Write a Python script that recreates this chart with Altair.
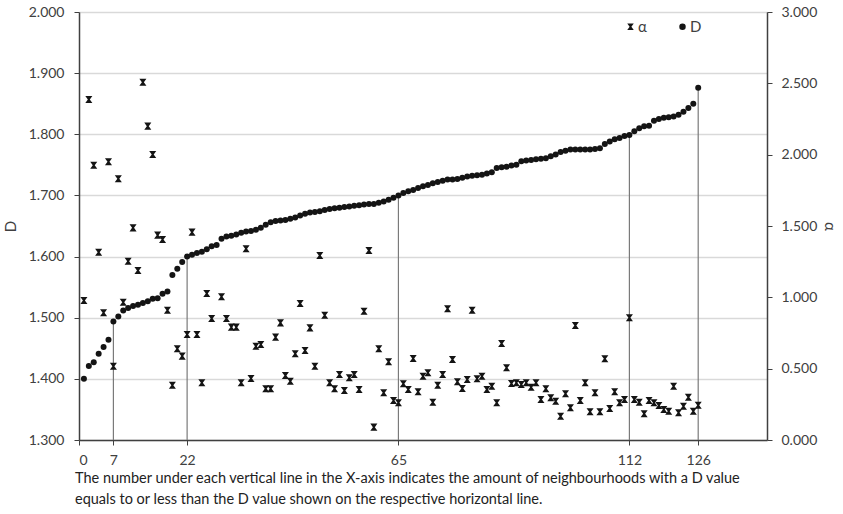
import altair as alt
import pandas as pd

# neighbourhood rank (x) and fractal dimension D, sorted ascending
rank = list(range(1, 127))
D_values = [
    1.400, 1.421, 1.427, 1.441, 1.452, 1.464, 1.494, 1.502, 1.512, 1.516,
    1.519, 1.521, 1.524, 1.527, 1.531, 1.532, 1.539, 1.543, 1.570, 1.580,
    1.591, 1.600, 1.603, 1.606, 1.608, 1.612, 1.617, 1.619, 1.629, 1.633,
    1.634, 1.636, 1.639, 1.641, 1.642, 1.644, 1.647, 1.652, 1.656, 1.658,
    1.659, 1.660, 1.662, 1.664, 1.667, 1.670, 1.672, 1.673, 1.674, 1.676,
    1.678, 1.679, 1.680, 1.681, 1.682, 1.683, 1.684, 1.685, 1.686, 1.686,
    1.688, 1.690, 1.693, 1.696, 1.700, 1.704, 1.707, 1.709, 1.712, 1.715,
    1.717, 1.720, 1.722, 1.724, 1.726, 1.726, 1.727, 1.729, 1.731, 1.732,
    1.733, 1.734, 1.736, 1.738, 1.745, 1.746, 1.747, 1.749, 1.750, 1.756,
    1.757, 1.758, 1.759, 1.760, 1.761, 1.764, 1.767, 1.771, 1.773, 1.775,
    1.775, 1.775, 1.775, 1.775, 1.776, 1.777, 1.784, 1.788, 1.792, 1.794,
    1.797, 1.799, 1.805, 1.810, 1.813, 1.814, 1.822, 1.825, 1.827, 1.828,
    1.829, 1.832, 1.837, 1.843, 1.850, 1.876,
]
alpha_values = [
    0.978, 2.387, 1.926, 1.316, 0.892, 1.950, 0.517, 1.831, 0.966, 1.253,
    1.487, 1.188, 2.508, 2.200, 2.001, 1.436, 1.405, 0.910, 0.384, 0.639,
    0.588, 0.739, 1.457, 0.739, 0.401, 1.027, 0.852, None, 1.004, 0.852,
    0.791, 0.791, 0.401, 1.340, 0.431, 0.657, 0.669, 0.359, 0.359, 0.721,
    0.821, 0.452, 0.412, 0.604, 0.957, 0.627, 0.786, 0.517, 1.293, 0.875,
    0.401, 0.359, 0.459, 0.347, 0.436, 0.459, 0.354, 0.903, 1.328, 0.090,
    0.639, 0.331, 0.548, 0.277, 0.261, 0.394, 0.354, 0.571, 0.338, 0.447,
    0.471, 0.265, 0.384, 0.459, 0.920, 0.564, 0.408, 0.361, 0.424, 0.910,
    0.429, 0.447, 0.354, 0.377, 0.261, 0.676, 0.506, 0.396, 0.401, 0.389,
    0.401, 0.370, 0.401, 0.284, 0.359, 0.296, 0.272, 0.167, 0.324, 0.226,
    0.803, 0.277, 0.401, 0.198, 0.331, 0.198, 0.569, 0.221, 0.338, 0.261,
    0.284, 0.857, 0.284, 0.265, 0.184, 0.277, 0.261, 0.242, 0.214, 0.202,
    0.377, 0.191, 0.237, 0.300, 0.202, 0.244,
]
marked_ranks = [7, 22, 65, 112, 126]
x_tick_values = [0, 7, 22, 65, 112, 126]
D_ticks = [1.3, 1.4, 1.5, 1.6, 1.7, 1.8, 1.9, 2.0]
alpha_ticks = [0.0, 0.5, 1.0, 1.5, 2.0, 2.5, 3.0]
series_names = ["α", "D"]
caption_lines = [
    "The number under each vertical line in the X-axis indicates the amount of neighbourhoods with a D value",
    "equals to or less than the D value shown on the respective horizontal line.",
]

FONT = "Lato"
INK = "#404040"
MARK = "#141414"
HOURGLASS = "M-1,-1H1L0.28,0L1,1H-1L-0.28,0Z"

df_d = pd.DataFrame({"n": rank, "D": D_values, "series": "D"})
df_a = pd.DataFrame({"n": rank, "alpha": alpha_values, "series": "α"}).dropna()
df_lines = pd.DataFrame({
    "n": marked_ranks,
    "top": [D_values[r - 1] for r in marked_ranks],
    "base": [D_ticks[0]] * len(marked_ranks),
})

x_enc = alt.X(
    "n:Q",
    scale=alt.Scale(domain=[0, 140], nice=False),
    axis=alt.Axis(values=x_tick_values, grid=False, title=None, format="d",
                  labelFontSize=14, labelColor=INK, labelFont=FONT,
                  domainColor=INK, domainWidth=1.5, tickColor=INK,
                  tickSize=5, labelPadding=8),
)

shape_scale = alt.Scale(domain=series_names, range=[HOURGLASS, "circle"])
legend = alt.Legend(
    title=None, orient="none", direction="horizontal", legendX=544, legendY=7,
    labelFont=FONT, labelFontSize=15, labelColor=INK, symbolSize=42,
    symbolFillColor=MARK, symbolStrokeColor=MARK, symbolStrokeWidth=0,
    columnPadding=28, labelOffset=0,
)

d_scale = alt.Scale(domain=[1.3, 2.0], nice=False, zero=False)

rules = alt.Chart(df_lines).mark_rule(color="#7a7a7a", strokeWidth=1.2).encode(
    x=x_enc,
    y=alt.Y("base:Q", scale=d_scale),
    y2="top:Q",
)

d_points = alt.Chart(df_d).mark_point(filled=True, color=MARK, opacity=1, size=36).encode(
    x=x_enc,
    y=alt.Y("D:Q", scale=d_scale,
            axis=alt.Axis(orient="left", values=D_ticks, format=".3f", title="D",
                          grid=True, gridColor="#d9d9d9", gridWidth=1.5,
                          labelFontSize=14, labelColor=INK, labelFont=FONT,
                          titleFont=FONT, titleFontSize=15, titleFontWeight="normal",
                          titleColor=INK, titlePadding=10,
                          domainColor=INK, domainWidth=1.5, tickColor=INK,
                          tickSize=5, labelPadding=10)),
    shape=alt.Shape("series:N", scale=shape_scale, legend=legend),
)

a_points = alt.Chart(df_a).mark_point(filled=True, color=MARK, opacity=1, size=50).encode(
    x=x_enc,
    y=alt.Y("alpha:Q", scale=alt.Scale(domain=[0, 3], nice=False),
            axis=alt.Axis(orient="right", values=alpha_ticks, format=".3f", title="α",
                          grid=False, labelFontSize=14, labelColor=INK, labelFont=FONT,
                          titleFont=FONT, titleFontSize=15, titleFontWeight="normal",
                          titleColor=INK, titlePadding=5,
                          domainColor=INK, domainWidth=1.5, tickColor=INK,
                          tickSize=5, labelPadding=9)),
    shape=alt.Shape("series:N", scale=shape_scale, legend=legend),
)

left = alt.layer(rules, d_points)
chart = alt.layer(left, a_points).resolve_scale(y="independent").properties(
    width=688,
    height=428,
    title=alt.TitleParams(
        text=caption_lines, orient="bottom", anchor="start", frame="group",
        font=FONT, fontSize=14.5, fontWeight="normal", color="#222222",
        lineHeight=21, offset=5, dx=-4,
    ),
    autosize=alt.AutoSizeParams(type="none"),
    padding={"left": 79, "top": 12, "right": 76, "bottom": 74},
).configure_view(stroke=None).configure(background="white")

chart.save("out.html", embed_options={"renderer": "svg", "actions": False})
